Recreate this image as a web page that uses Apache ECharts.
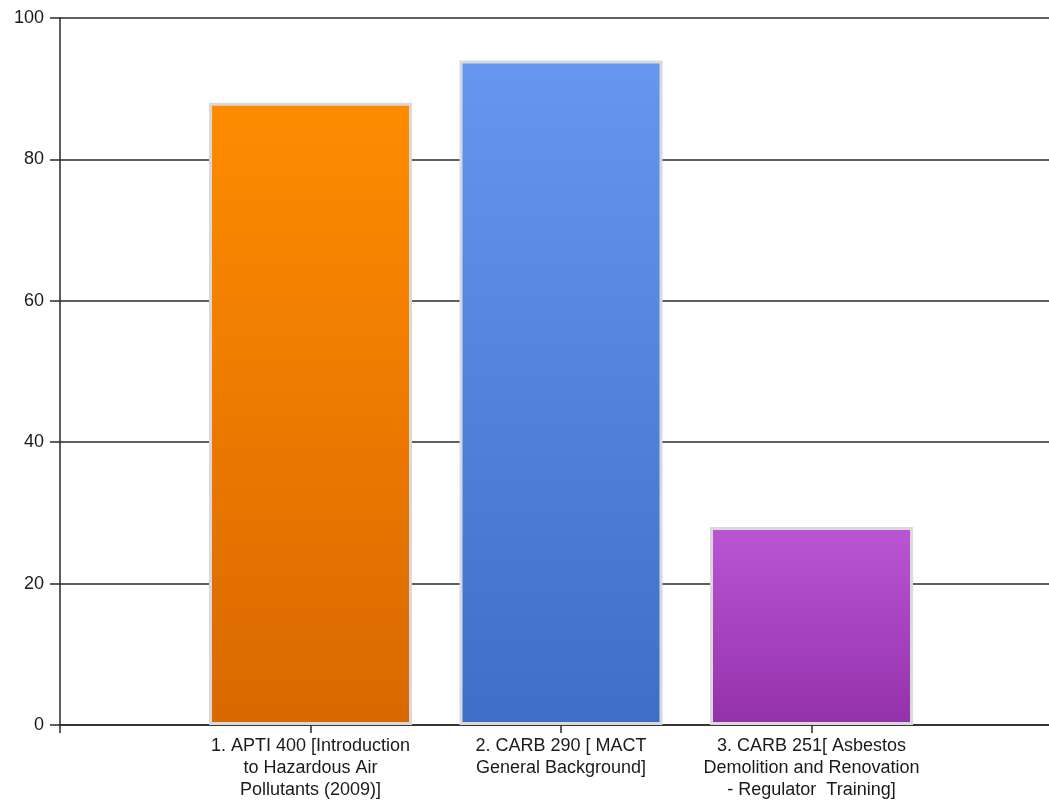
<!DOCTYPE html>
<html><head><meta charset="utf-8">
<script src="https://cdn.jsdelivr.net/npm/echarts@6/dist/echarts.min.js"></script>
<style>html,body{margin:0;padding:0;background:#fff}#c{width:1049px;height:804px}</style>
</head><body><div id="c"></div>
<script>
const categories = ['', '1. APTI 400 [Introduction\nto Hazardous Air\nPollutants (2009)]', '2. CARB 290 [ MACT\nGeneral Background]', '3. CARB 251[ Asbestos\nDemolition and Renovation\n- Regulator  Training]', ''];
const values = [null, 88, 94, 28, null];
const topColors = [null, '#ff8c00', '#6696ee', '#bb55d4', null];
const bottomColors = [null, '#d96800', '#3f6ec6', '#9331aa', null];
const yTicks = { min: 0, max: 100, interval: 20 };

const chart = echarts.init(document.getElementById('c'), null, { renderer: 'canvas' });
const font = 'Liberation Sans';
chart.setOption({
  animation: false,
  grid: { left: 60, right: -13, top: 18, bottom: 79, containLabel: false, outerBoundsMode: 'none' },
  xAxis: {
    type: 'category', data: categories, boundaryGap: false,
    axisLine: { lineStyle: { color: '#2a2a2a', width: 1.5 } },
    axisTick: { show: true, length: 8, lineStyle: { color: '#2a2a2a', width: 1.5 } },
    axisLabel: { color: '#1a1a1a', fontFamily: font, fontSize: 18, lineHeight: 22, margin: 10, interval: 0 },
    splitLine: { show: false }
  },
  yAxis: {
    type: 'value', min: yTicks.min, max: yTicks.max, interval: yTicks.interval,
    axisLine: { show: true, lineStyle: { color: '#2a2a2a', width: 1.5 } },
    axisTick: { show: true, length: 10, lineStyle: { color: '#2a2a2a', width: 1.5 } },
    axisLabel: { color: '#1a1a1a', fontFamily: font, fontSize: 18, margin: 16 },
    splitLine: { show: true, lineStyle: { color: '#2a2a2a', width: 1.5 } }
  },
  series: [{
    type: 'bar', barWidth: 203,
    data: values.map((v, i) => v == null ? null : {
      value: v,
      itemStyle: {
        color: new echarts.graphic.LinearGradient(0, 0, 0, 1, [
          { offset: 0, color: topColors[i] }, { offset: 1, color: bottomColors[i] }
        ]),
        borderColor: '#d9d9d9', borderWidth: 3
      }
    })
  }]
});
</script></body></html>
